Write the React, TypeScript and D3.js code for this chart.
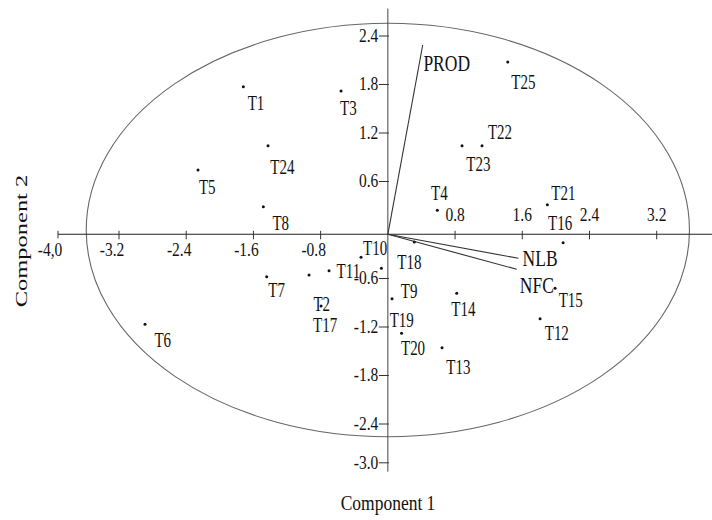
import React from "react";
import * as d3 from "d3";

// ---- data ----
const pointNames = ["T1","T2","T3","T4","T5","T6","T7","T8","T9","T10","T11","T12","T13","T14","T15","T16","T17","T18","T19","T20","T21","T22","T23","T24","T25"];
const comp1 = [-1.720,-0.938,-0.557,0.589,-2.260,-2.890,-1.442,-1.482,-0.077,-0.319,-0.700,1.812,0.645,0.820,1.990,2.086,-0.795,0.315,0.050,0.163,1.899,1.121,0.883,-1.426,1.427];
const comp2 = [1.773,-0.557,1.720,0.244,0.742,-1.167,-0.578,0.288,-0.474,-0.338,-0.504,-1.097,-1.456,-0.783,-0.721,-0.157,-0.940,-0.148,-0.850,-1.278,0.313,1.043,1.043,1.043,2.078];

const vectorNames = ["PROD","NLB","NFC"];
const vectorX = [0.415,1.554,1.535];
const vectorY = [2.342,-0.297,-0.433];

const xTicks = [-3.2,-2.4,-1.6,-0.8,0.8,1.6,2.4,3.2];
const xTickLabels = ["-3.2","-2.4","-1.6","-0.8","0.8","1.6","2.4","3.2"];
const yTicks = [2.4,1.8,1.2,0.6,-0.6,-1.2,-1.8,-2.4];
const yTickLabels = ["2.4","1.8","1.2","0.6","-0.6","-1.2","-1.8","-2.4"];
const xAxisEnd = [-3.926, 3.86];
const xEndLabel = "-4,0";
const yAxisEnd = [-2.99, 2.74];
const yEndTick = -2.88;
const yEndLabel = "-3.0";
const ellipseR = [3.59, 2.557];

// ---- layout (label nudges in px, not data) ----
const labelNudge: Record<string, [number, number]> = {
  T1:[12.7,16.6],T2:[12.7,29.3],T3:[7.3,17.3],T4:[2,-17],T5:[9.3,16.7],T6:[17.7,15.7],T7:[10,13.3],T8:[17.4,16],
  T9:[27.7,22.7],T10:[14,-9],T11:[19.3,0],T12:[16.7,14.6],T13:[16.3,19],T14:[6.6,16],T15:[15.7,11.7],T16:[-3,-20],
  T17:[4,19],T18:[-5,20.3],T19:[9.7,21.3],T20:[11.5,14.7],T21:[16,-12],T22:[18,-14],T23:[16.3,18.3],T24:[14.3,21],T25:[15.6,19.7]
};
const vecNudge: Record<string, [number, number]> = { PROD:[24,18.3], NLB:[21.7,-0.6], NFC:[20,15.7] };

const W = 712, H = 520;
const FONT = "'Liberation Serif', 'Times New Roman', serif";
const INK = "#111";

function SText({x, y, size, k, children, anchor = "middle", rotate = 0, kx = 1}: any) {
  const t = rotate
    ? `translate(${x},${y}) rotate(${rotate}) scale(${kx},${k})`
    : `translate(${x},${y}) scale(${kx},${k})`;
  return (
    <text transform={t} fontSize={size} fontFamily={FONT} fill={INK}
      textAnchor={anchor} dominantBaseline="central">{children}</text>
  );
}

export default function App() {
  const x = d3.scaleLinear().domain([-3.2, 3.2]).range([119, 656.7]);
  const y = d3.scaleLinear().domain([-2.4, 2.4]).range([424, 36]);
  const nudge = 4.3; // drawn x-axis sits slightly below y=0
  const ox = x(0), oy = y(0) + nudge;

  return (
    <svg width={W} height={H} style={{position: "absolute", left: 0, top: 0, background: "#fff"}}>
      <rect width={W} height={H} fill="#fff" />
      <ellipse cx={x(0)} cy={y(0)} rx={x(ellipseR[0]) - x(0)} ry={y(0) - y(ellipseR[1])}
        fill="none" stroke="#666" strokeWidth={1.1} />
      {/* x axis */}
      <line x1={x(xAxisEnd[0])} x2={x(xAxisEnd[1])} y1={oy} y2={oy} stroke="#222" strokeWidth={1.1} />
      {/* y axis */}
      <line x1={ox} x2={ox} y1={y(yAxisEnd[1])} y2={y(yAxisEnd[0])} stroke="#444" strokeWidth={1} />
      {/* x ticks */}
      {xTicks.map((t, i) => (
        <g key={"xt" + i}>
          <line x1={x(t)} x2={x(t)} y1={oy - 3.5} y2={oy + 5} stroke="#333" strokeWidth={1} />
          {t > 0
            ? <SText x={x(t)} y={oy - 19} size={15.5} k={1.15}>{xTickLabels[i]}</SText>
            : <SText x={x(t) - 7} y={oy + 16} size={15.5} k={1.15}>{xTickLabels[i]}</SText>}
        </g>
      ))}
      <line x1={x(xAxisEnd[0])} x2={x(xAxisEnd[0])} y1={oy - 3.5} y2={oy + 4} stroke="#333" strokeWidth={1} />
      <SText x={x(xAxisEnd[0]) - 8} y={oy + 16} size={15.5} k={1.15}>{xEndLabel}</SText>
      {/* y ticks */}
      {yTicks.map((t, i) => (
        <g key={"yt" + i}>
          <line x1={ox - 9} x2={ox + 1} y1={y(t)} y2={y(t)} stroke="#333" strokeWidth={1} />
          <SText x={ox - 9.5} y={y(t)} size={15.5} k={1.15} anchor="end">{yTickLabels[i]}</SText>
        </g>
      ))}
      <line x1={ox - 9} x2={ox + 1} y1={y(yEndTick)} y2={y(yEndTick)} stroke="#333" strokeWidth={1} />
      <SText x={ox - 9.5} y={y(yEndTick)} size={15.5} k={1.15} anchor="end">{yEndLabel}</SText>

      {/* loading vectors */}
      {vectorNames.map((n, i) => {
        const ex = x(vectorX[i]), ey = y(vectorY[i]) + nudge;
        return (
          <g key={n}>
            <line x1={ox} y1={oy} x2={ex} y2={ey} stroke="#333" strokeWidth={1.1} />
            <SText x={ex + vecNudge[n][0]} y={ey + vecNudge[n][1]} size={17.5} k={1.3}>{n}</SText>
          </g>
        );
      })}

      {/* points */}
      {pointNames.map((n, i) => {
        const px = x(comp1[i]), py = y(comp2[i]);
        return (
          <g key={n}>
            <circle cx={px} cy={py} r={1.5} fill="#111" />
            <SText x={px + labelNudge[n][0]} y={py + labelNudge[n][1]} size={15} k={1.35}>{n}</SText>
          </g>
        );
      })}

      <SText x={388} y={503} size={17.5} k={1.2}>Component 1</SText>
      <SText x={21.7} y={241} size={17.5} k={1} kx={1.4} rotate={-90}>Component 2</SText>
    </svg>
  );
}
